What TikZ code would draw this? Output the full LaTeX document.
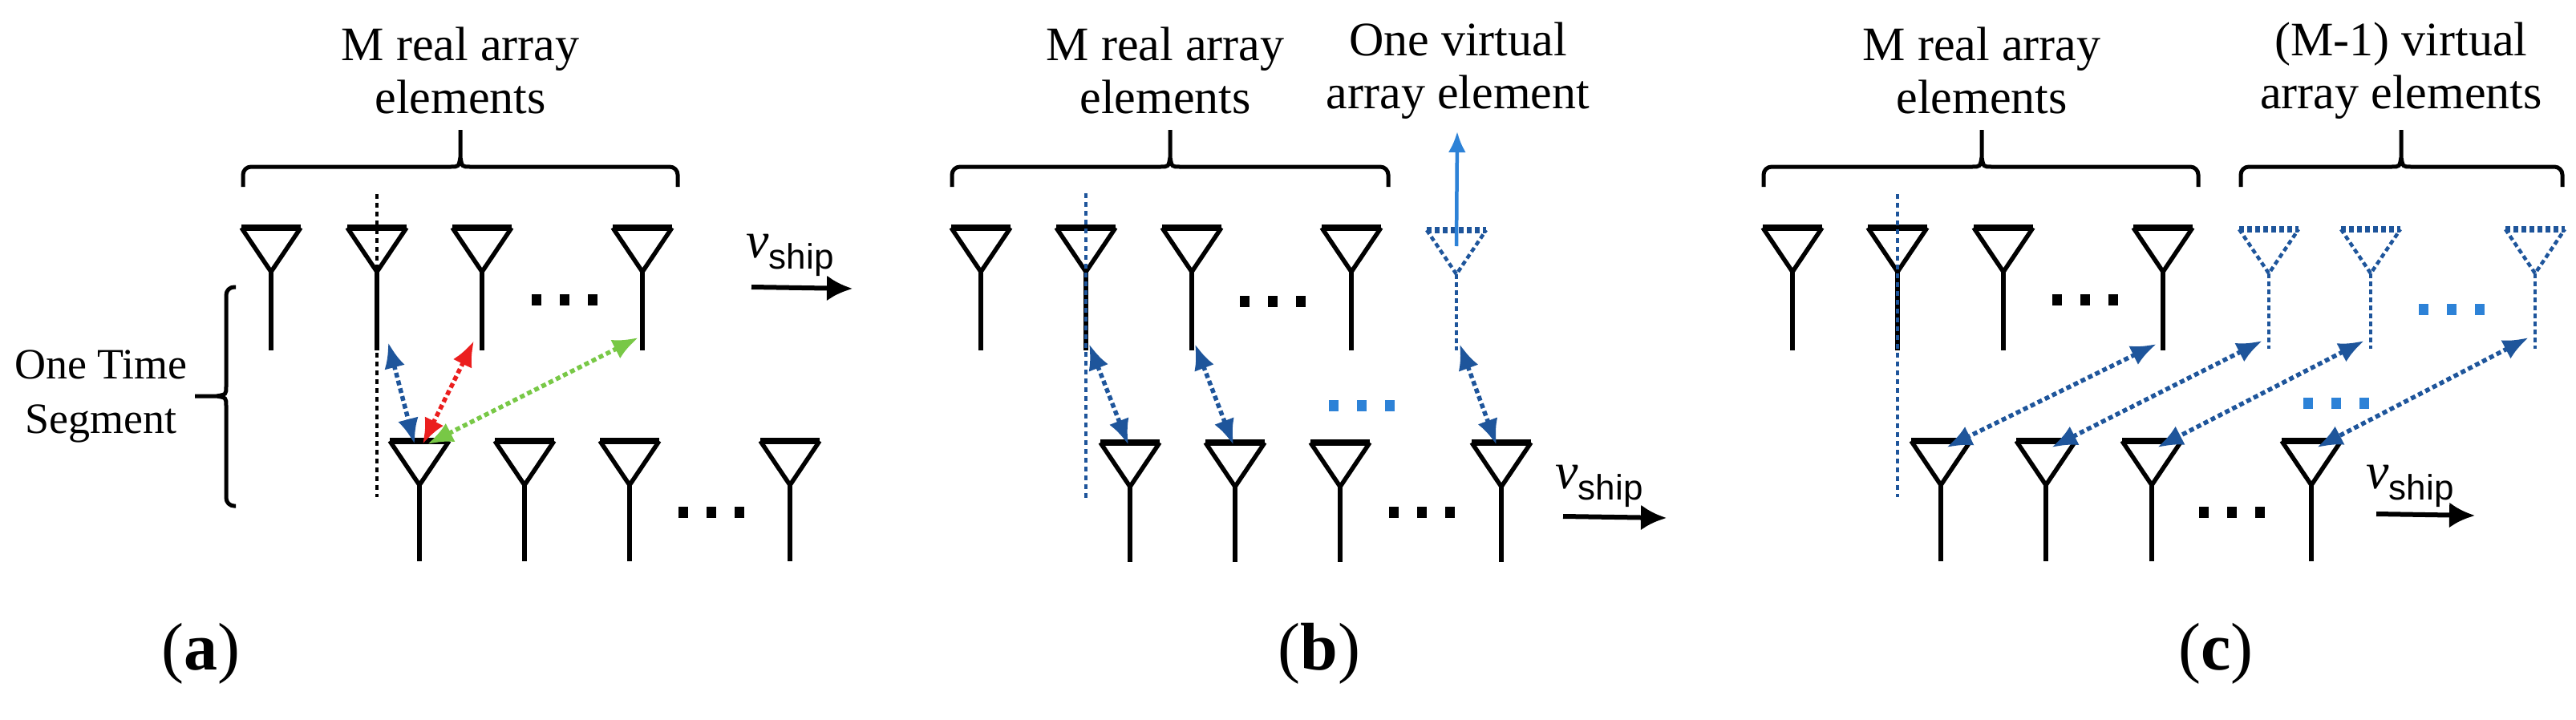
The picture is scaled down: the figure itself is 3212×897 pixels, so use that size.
\documentclass[tikz,border=0pt]{standalone}
\usepackage{fontspec}
\setmainfont{Liberation Serif}
\newfontfamily\sansf{Liberation Sans}
\usetikzlibrary{arrows.meta}
\definecolor{dblue}{RGB}{30,85,155}
\definecolor{lblue}{RGB}{45,130,215}
\definecolor{mred}{RGB}{235,30,30}
\definecolor{mgreen}{RGB}{120,200,70}
\newcommand\antenna[5]{% name, x, ytop, ybot, style
  \coordinate (#1-t) at (#2,#3);
  \coordinate (#1-a) at (#2,#3+55);
  \coordinate (#1-b) at (#2,#4);
  \draw[#5] (#2-37,#3) -- (#2,#3+55) -- (#2+37,#3);
  \draw[#5,line width=8pt] (#2-37,#3) -- (#2+37,#3);
  \draw[#5] (#2,#3+55) -- (#2,#4);
}
\newcommand\mydots[4]{% name,x,y,color
  \node[inner sep=0pt,minimum size=0pt] (#1) at (#2,#3) {};
  \foreach \k in {-35,0,35} \fill[#4] (#2+\k-6,#3-7) rectangle (#2+\k+6,#3+7);
}
\newcommand\hbrace[4]{% x1,x2,tip x,name
  \draw[line width=5pt,rounded corners=10pt] (#1,233) |- (#3-12,208);
  \draw[line width=5pt,rounded corners=10pt] (#2,233) |- (#3+12,208);
  \draw[line width=5pt] (#3-12,208) .. controls (#3-2,208) .. (#3,196) -- (#3,162)
    (#3+12,208) .. controls (#3+2,208) .. (#3,196);
  \coordinate (#4) at (#3,162);
}
\newcommand\vship{\textit{v}\raisebox{-14pt}{\fontsize{44}{44}\selectfont\sansf ship}}
\begin{document}
\begin{tikzpicture}[x=1pt,y=-1pt,
  ant/.style={line width=5.5pt,black},
  vant/.style={line width=4.5pt,dblue,dash pattern=on 6pt off 4pt},
  dl/.style={line width=5.5pt,dash pattern=on 6pt off 4pt,{Latex[length=32pt,width=26pt]}-{Latex[length=32pt,width=26pt]}},
  vline/.style={line width=3.5pt,dash pattern=on 6pt off 5pt},
  ship/.style={-{Latex[length=32pt,width=32pt]},line width=6pt},
  vs/.style={font=\fontsize{64}{66}\selectfont,inner sep=0pt},
  lab/.style={font=\fontsize{60}{66}\selectfont,align=center,inner sep=0pt},
  big/.style={font=\fontsize{84}{90}\selectfont,inner sep=0pt}]
\useasboundingbox (0,0) rectangle (3212,897);
% ---------- (a)
\node[lab] (ta) at (574,88) {M real array\\elements};
\hbrace{303}{845}{574}{ba}
\foreach \n/\x in {1/338,2/470,3/601,4/801} {\antenna{a\n}{\x}{284}{437}{ant}}
\foreach \n/\x in {1/523,2/654,3/785,4/985} {\antenna{ab\n}{\x}{550}{700}{ant}}
\mydots{ad1}{704}{374}{black}
\mydots{ad2}{887}{639}{black}
\coordinate (avl1) at (470,242); \coordinate (avl2) at (470,620);
\draw[vline,black] (avl1) -- (avl2);
\node[vs] (va) at (985,318) {\vship};
\coordinate (vas) at (937,358); \coordinate (vae) at (1063,360);
\draw[ship] (vas) -- (vae);
\draw[line width=5pt,rounded corners=10pt] (294,358) -| (282,482);
\draw[line width=5pt,rounded corners=10pt] (294,631) -| (282,506);
\draw[line width=5pt] (282,482) .. controls (282,492) .. (270,494) -- (243,494)
  (282,506) .. controls (282,496) .. (270,494);
\node[lab,anchor=east,font=\fontsize{54}{68}\selectfont] (ots) at (234,494) {One Time\\Segment};
\draw[dl,dblue] ([xshift=14pt,yshift=10pt]a2-b) -- ([xshift=-6pt,yshift=-4pt]ab1-t);
\draw[dl,mred] ([xshift=-10pt,yshift=12pt]a3-b) -- ([xshift=4pt,yshift=-4pt]ab1-t);
\draw[dl,mgreen] ([xshift=-5pt,yshift=16pt]a4-b) -- ([xshift=10pt,yshift=-4pt]ab1-t);
\node[big] (la) at (250,815) {(\textbf{a})};
% ---------- (b)
\node[lab] (tb1) at (1453,88) {M real array\\elements};
\node[lab] (tb2) at (1818,88) {One virtual\\array element};
\hbrace{1187}{1731}{1459}{bb}
\foreach \n/\x in {1/1223,2/1354,3/1486,4/1685} {\antenna{b\n}{\x}{284}{437}{ant}}
\antenna{bv}{1816}{287}{437}{vant}
\foreach \n/\x in {1/1409,2/1540,3/1671,4/1872} {\antenna{bb\n}{\x}{552}{701}{ant}}
\mydots{bd1}{1587}{376}{black}
\mydots{bd2}{1773}{639}{black}
\mydots{bd3}{1698}{506}{lblue}
\coordinate (bvl1) at (1354,241); \coordinate (bvl2) at (1354,621);
\draw[vline,dblue] (bvl1) -- (bvl2);
\coordinate (bup) at (1817,164);
\draw[-{Latex[length=26pt,width=22pt]},line width=4.5pt,lblue] ([yshift=-20pt]bv-t) -- (bup);
\draw[dl,dblue] ([xshift=4pt,yshift=8pt]b2-b) -- ([xshift=-2pt,yshift=-3pt]bb1-t);
\draw[dl,dblue] ([xshift=4pt,yshift=8pt]b3-b) -- ([xshift=-2pt,yshift=-3pt]bb2-t);
\draw[dl,dblue] ([xshift=4pt,yshift=8pt]bv-b) -- ([xshift=-6pt,yshift=-3pt]bb4-t);
\node[vs] (vb) at (1994,606) {\vship};
\coordinate (vbs) at (1949,644); \coordinate (vbe) at (2078,646);
\draw[ship] (vbs) -- (vbe);
\node[big] (lb) at (1645,815) {(\textbf{b})};
% ---------- (c)
\node[lab] (tc1) at (2471,88) {M real array\\elements};
\node[lab] (tc2) at (2994,88) {(M-1) virtual\\array elements};
\hbrace{2199}{2741}{2471}{bc1}
\hbrace{2794}{3195}{2994}{bc2}
\foreach \n/\x in {1/2235,2/2366,3/2498,4/2697} {\antenna{c\n}{\x}{284}{437}{ant}}
\foreach \n/\x in {5/2829,6/2956,7/3161} {\antenna{c\n}{\x}{286}{435}{vant}}
\foreach \n/\x in {1/2420,2/2551,3/2683,4/2882} {\antenna{cb\n}{\x}{550}{700}{ant}}
\mydots{cd1}{2600}{374}{black}
\mydots{cd2}{2783}{639}{black}
\mydots{cd3}{3057}{386}{lblue}
\mydots{cd4}{2913}{503}{lblue}
\coordinate (cvl1) at (2366,242); \coordinate (cvl2) at (2366,620);
\draw[vline,dblue] (cvl1) -- (cvl2);
\draw[dl,dblue] ([xshift=-8pt,yshift=8pt]c4-b) -- ([xshift=7pt,yshift=-8pt]cb1-t);
\draw[dl,dblue] ([xshift=-8pt,yshift=10pt]c5-b) -- ([xshift=7pt,yshift=-8pt]cb2-t);
\draw[dl,dblue] ([xshift=-8pt,yshift=10pt]c6-b) -- ([xshift=7pt,yshift=-8pt]cb3-t);
\draw[dl,dblue] ([xshift=-8pt,yshift=14pt]c7-b) -- ([xshift=7pt,yshift=-8pt]cb4-t);
\node[vs] (vc) at (3005,606) {\vship};
\coordinate (vcs) at (2963,641); \coordinate (vce) at (3086,643);
\draw[ship] (vcs) -- (vce);
\node[big] (lc) at (2763,815) {(\textbf{c})};
\end{tikzpicture}
\end{document}
